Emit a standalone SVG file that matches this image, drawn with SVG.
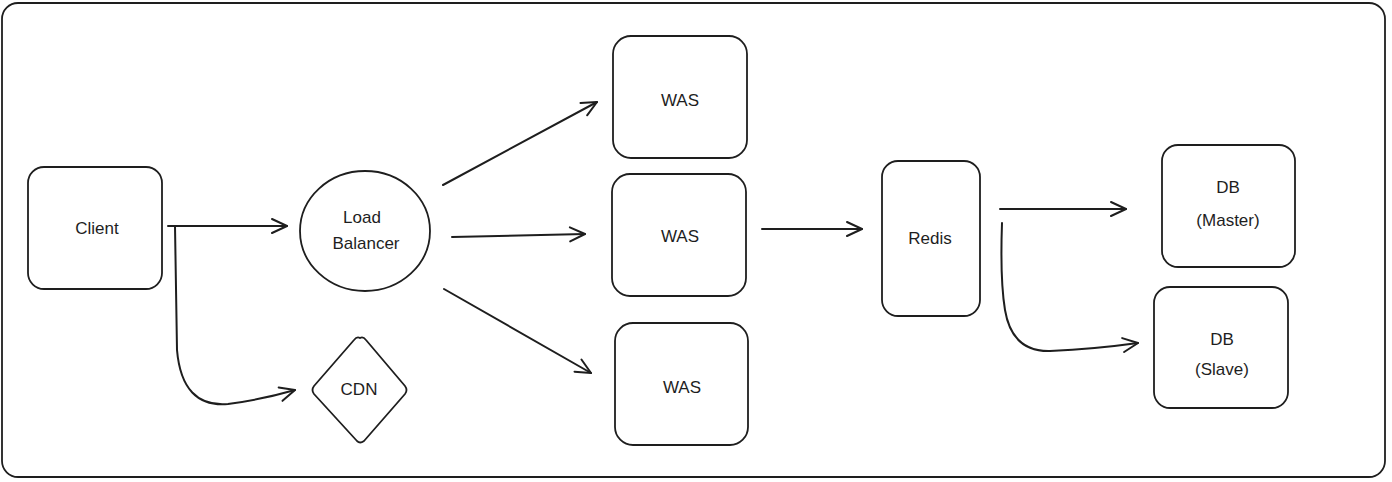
<svg xmlns="http://www.w3.org/2000/svg" width="1392" height="482" viewBox="0 0 1392 482">
<style>
.shape{fill:#ffffff;stroke:#1e1e1e;stroke-width:1.8;stroke-linejoin:round}
.frame{fill:#ffffff;stroke:#1e1e1e;stroke-width:1.8}
.conn{fill:none;stroke:#1e1e1e;stroke-width:2;stroke-linecap:round;stroke-linejoin:round}
.label{font-family:"Liberation Sans",Arial,sans-serif;font-size:17px;fill:#1e1e1e;text-anchor:middle;dominant-baseline:central}
</style>
<defs>
<marker id="arrow" viewBox="0 0 20 20" refX="18" refY="10" markerWidth="20" markerHeight="20" markerUnits="userSpaceOnUse" orient="auto">
<path d="M3 3 L18 10 L3 17" fill="none" stroke="#1e1e1e" stroke-width="2" stroke-linecap="round" stroke-linejoin="round"/>
</marker>
</defs>
<rect x="2" y="3" width="1383" height="474" rx="16" class="frame"/>
<g id="client"><rect x="28" y="167" width="134" height="122" rx="16" class="shape"/><text x="97" y="228" class="label">Client</text></g>
<g id="load-balancer"><ellipse cx="365" cy="231" rx="65" ry="60" class="shape"/><text x="362" y="217" class="label">Load</text><text x="366" y="243" class="label">Balancer</text></g>
<g id="cdn"><path d="M360 338 Q363 336 366 340 L405 386 Q408 390 405 394 L364 441 Q360 444 357 441 L314 394 Q311 390 314 386 L354 340 Q357 336 360 338 Z" class="shape"/><text x="359" y="389" class="label">CDN</text></g>
<g id="was1"><rect x="613" y="36" width="134" height="122" rx="18" class="shape"/><text x="680" y="100" class="label">WAS</text></g>
<g id="was2"><rect x="612" y="174" width="134" height="122" rx="18" class="shape"/><text x="680" y="236" class="label">WAS</text></g>
<g id="was3"><rect x="615" y="323" width="133" height="122" rx="18" class="shape"/><text x="682" y="387" class="label">WAS</text></g>
<g id="redis"><rect x="882" y="161" width="98" height="155" rx="16" class="shape"/><text x="930" y="238" class="label">Redis</text></g>
<g id="db-master"><rect x="1162" y="145" width="133" height="122" rx="16" class="shape"/><text x="1228" y="187" class="label">DB</text><text x="1228" y="220" class="label">(Master)</text></g>
<g id="db-slave"><rect x="1154" y="287" width="134" height="121" rx="16" class="shape"/><text x="1222" y="339" class="label">DB</text><text x="1222" y="369" class="label">(Slave)</text></g>
<g id="connectors">
<path d="M168 226 L287 226" class="conn" marker-end="url(#arrow)"/>
<path d="M175 226 L177 350 Q182 408 228 404 Q260 400 295 390" class="conn" marker-end="url(#arrow)"/>
<path d="M443 185 L597 102" class="conn" marker-end="url(#arrow)"/>
<path d="M452 237 L585 234" class="conn" marker-end="url(#arrow)"/>
<path d="M444 289 L591 373" class="conn" marker-end="url(#arrow)"/>
<path d="M762 229 L862 229" class="conn" marker-end="url(#arrow)"/>
<path d="M1000 209 L1126 209" class="conn" marker-end="url(#arrow)"/>
<path d="M1002 223 Q1000 280 1005 310 Q1012 352 1050 351 Q1095 349 1138 343" class="conn" marker-end="url(#arrow)"/>
</g>
</svg>
